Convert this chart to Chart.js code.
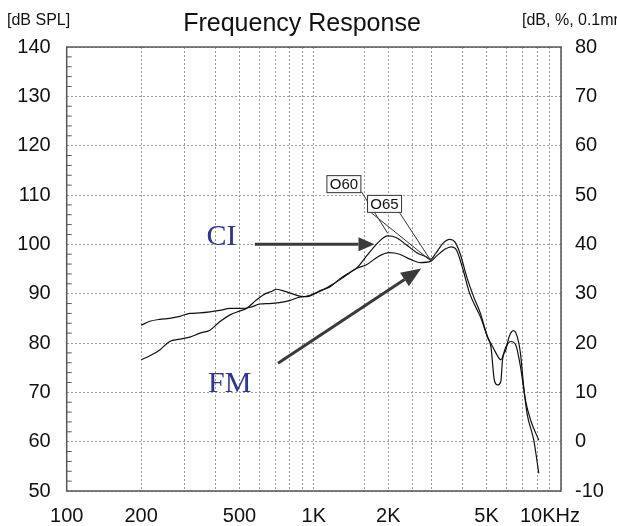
<!DOCTYPE html>
<html>
<head>
<meta charset="utf-8">
<script src="https://cdn.jsdelivr.net/npm/chart.js@4.4.1/dist/chart.umd.min.js"></script>
<style>
  html,body{margin:0;padding:0;background:#fff;}
  canvas{display:block;}
</style>
</head>
<body>
<canvas id="fr" width="617" height="526"></canvas>
<script>
/* --- DATA --- */
// grid frequencies (Hz) and which of them get a label
const xGrid   = [100,200,300,400,500,600,700,800,900,1000,1600,2000,2500,3000,4000,5000,6000,7000,8000,9000,10000];
const xLabels = {100:'100',200:'200',500:'500',1000:'1K',2000:'2K',5000:'5K'};

// O60 curve (rises to the higher 2K peak, deep notch near 5.5K)
const o60Freq = [200,217,238,261,287,315,346,380,416,458,502,534,585,622,684,705,772,849,904,996,
                 1100,1200,1300,1400,1500,1626,1831,1987,2150,2368,2610,2837,2974,3116,3328,3546,3721,3902,4155,4429,
                 4720,5030,5207,5373,5535,5708,5800,5983,6170,6425,6650,6855,7066,7290,7760,8130];
const o60Db   = [76.6,77.4,78.6,80.3,80.8,81.2,82.0,82.6,84.3,85.7,86.5,87.0,88.7,89.7,90.6,90.9,90.4,89.7,89.4,89.9,
                 90.9,92.0,93.1,94.3,95.3,97.5,100.5,101.7,101.4,99.9,98.3,97.5,97.0,98.2,100.2,101.0,100.5,98.2,93.4,89.4,
                 86.0,81.3,79.2,72.5,71.5,72.2,76.6,78.6,81.3,82.5,81.3,77.9,71.1,65.7,60.3,53.6];

// O65 curve
const o65Freq = [200,217,238,261,287,315,346,380,416,458,502,551,604,662,726,798,876,961,1056,1157,
                 1273,1400,1500,1626,1831,2016,2222,2449,2699,2975,3116,3385,3601,3780,4017,4266,4720,5110,5207,5450,
                 5708,5983,6265,6560,6855,7180,7530,8130];
const o65Db   = [83.6,84.4,84.8,85.0,85.4,86.0,86.1,86.3,86.6,87.0,87.0,87.2,87.9,88.0,88.2,88.6,89.3,89.5,90.6,91.3,
                 93.0,94.3,95.2,95.8,97.6,98.3,98.0,97.0,96.3,96.6,97.5,99.0,99.5,98.8,94.8,90.1,85.3,80.6,79.9,78.0,
                 76.6,79.2,80.3,79.6,75.2,68.4,64.4,60.3];

/* --- STYLE --- */
const SANS  = '"Liberation Sans", Arial, Helvetica, sans-serif';
const SERIF = '"Liberation Serif", "Times New Roman", serif';
const INK   = '#111';
const BLUE  = '#2f3590';
const GRID  = '#9a9a9a';
const ARROW = '#3a3a3a';

const pts = (fs,ds)=>fs.map((f,i)=>({x:f,y:ds[i]}));

function arrow(ctx,x1,y1,x2,y2,head,half){
  const a=Math.atan2(y2-y1,x2-x1);
  const bx=x2-head*Math.cos(a), by=y2-head*Math.sin(a);
  ctx.beginPath(); ctx.moveTo(x1,y1); ctx.lineTo(bx,by); ctx.stroke();
  ctx.beginPath(); ctx.moveTo(x2,y2);
  ctx.lineTo(bx+half*Math.sin(a), by-half*Math.cos(a));
  ctx.lineTo(bx-half*Math.sin(a), by+half*Math.cos(a));
  ctx.closePath(); ctx.fill();
}

/* --- FRAME, HEADERS, ANNOTATIONS --- */
const extras={
  id:'extras',
  afterDatasetsDraw(chart){
    const {ctx,chartArea:ca,scales:{x,y}}=chart;
    const px=f=>x.getPixelForValue(f), py=d=>y.getPixelForValue(d);
    ctx.save();

    // frame
    ctx.strokeStyle='#555'; ctx.lineWidth=1.5; ctx.setLineDash([]);
    ctx.strokeRect(ca.left,ca.top,ca.right-ca.left,ca.bottom-ca.top);
    // minor ticks every 2 dB on the left edge
    ctx.lineWidth=1;
    for(let d=52; d<140; d+=2){
      if(d%10===0) continue;
      ctx.beginPath(); ctx.moveTo(ca.left,py(d)); ctx.lineTo(ca.left+5,py(d)); ctx.stroke();
    }

    // headers
    ctx.fillStyle=INK; ctx.textBaseline='alphabetic';
    ctx.font='25px '+SANS; ctx.textAlign='center';
    ctx.fillText('Frequency Response',302,31);
    ctx.font='16px '+SANS; ctx.textAlign='left';
    ctx.fillText('[dB SPL]',7,25);
    ctx.fillText('[dB, %, 0.1mm]',522,25);
    // last x label
    ctx.font='20px '+SANS; ctx.textAlign='right'; ctx.textBaseline='alphabetic';
    ctx.fillText('10KHz',px(10000)+19,521.5);

    // label boxes + leaders
    ctx.strokeStyle='#333'; ctx.lineWidth=1;
    ctx.beginPath(); ctx.moveTo(px(1556),py(110.7)); ctx.lineTo(px(1993),py(102.2)); ctx.stroke();
    ctx.beginPath(); ctx.moveTo(px(1707),py(106.4)); ctx.lineTo(px(2984),py(96.6)); ctx.stroke();
    ctx.beginPath(); ctx.moveTo(px(2222),py(106.4)); ctx.lineTo(px(2984),py(96.6)); ctx.stroke();
    ctx.font='15px '+SANS; ctx.textAlign='center'; ctx.textBaseline='middle';
    [['O60',1323,112.2],['O65',1932,108.2]].forEach(([t,f,d])=>{
      const cx=px(f), cy=py(d);
      ctx.fillStyle='#fff'; ctx.fillRect(cx-17,cy-8.5,34,17);
      ctx.strokeRect(cx-17,cy-8.5,34,17);
      ctx.fillStyle=INK; ctx.fillText(t,cx,cy+1);
    });

    // CI / FM callouts
    ctx.fillStyle=BLUE; ctx.font='30px '+SERIF; ctx.textAlign='left'; ctx.textBaseline='alphabetic';
    ctx.fillText('CI',px(368),py(99.8));
    ctx.fillText('FM',px(373),py(70.1));
    ctx.strokeStyle=ARROW; ctx.fillStyle=ARROW; ctx.lineWidth=3;
    arrow(ctx,px(577),py(100),px(1760),py(100),16,7);
    arrow(ctx,px(716),py(75.9),px(2718),py(95.1),20,8);

    ctx.restore();
  }
};

/* --- CHART --- */
new Chart(document.getElementById('fr'),{
  type:'line',
  data:{datasets:[
    {label:'O60',data:pts(o60Freq,o60Db),borderColor:INK,borderWidth:1.2,pointRadius:0,cubicInterpolationMode:'monotone'},
    {label:'O65',data:pts(o65Freq,o65Db),borderColor:INK,borderWidth:1.2,pointRadius:0,cubicInterpolationMode:'monotone'}
  ]},
  options:{
    responsive:false,animation:false,
    layout:{padding:{top:47,left:0,right:0,bottom:0}},
    plugins:{legend:{display:false},title:{display:false},tooltip:{enabled:false}},
    scales:{
      x:{type:'logarithmic',min:100,max:10000,
        afterBuildTicks:s=>{s.ticks=xGrid.map(v=>({value:v}));},
        afterFit:s=>{s.height=35;},
        ticks:{autoSkip:false,maxRotation:0,minRotation:0,padding:13,color:INK,font:{size:20,family:SANS},
          callback:v=>xLabels[v]!==undefined?xLabels[v]:''},
        grid:{color:GRID,lineWidth:1,drawTicks:false},
        border:{display:false,dash:[2,2]}},
      y:{position:'left',min:50,max:140,
        afterFit:s=>{s.width=66.7;},
        ticks:{stepSize:10,padding:16,color:INK,font:{size:20,family:SANS}},
        grid:{color:GRID,lineWidth:1,drawTicks:false},
        border:{display:false,dash:[2,2]}},
      y2:{position:'right',min:-10,max:80,
        afterFit:s=>{s.width=56;},
        ticks:{stepSize:10,padding:14,color:INK,font:{size:20,family:SANS}},
        grid:{display:false,drawTicks:false},
        border:{display:false}}
    }
  },
  plugins:[extras]
});
</script>
</body>
</html>
